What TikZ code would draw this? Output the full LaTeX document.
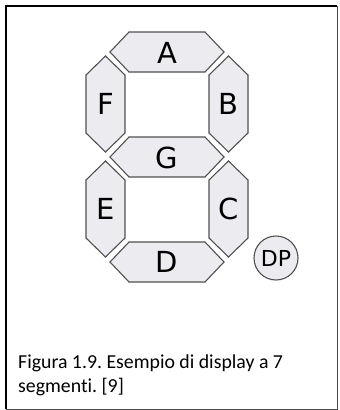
\documentclass[tikz,border=0pt]{standalone}
\usepackage{fontspec}
\setmainfont{Carlito}[Ligatures=NoCommon]
\newfontfamily\segfont{DejaVu Sans}
\definecolor{segfill}{RGB}{236,235,240}
\definecolor{segline}{RGB}{80,80,80}
\frenchspacing
\begin{document}
\begin{tikzpicture}[x=1pt, y=-1pt,
        segment/.style={draw=segline, fill=segfill, line width=1.1pt, line join=miter},
        seglabel/.style={font=\segfont\fontsize{29}{29}\selectfont, inner sep=0pt},
        dpoint/.style={circle, draw=segline, fill=segfill, line width=1.1pt, minimum size=44pt, inner sep=0pt, font=\segfont\fontsize{22}{22}\selectfont},
        caption/.style={font=\fontsize{19.8}{24}\selectfont, anchor=base west, inner sep=0pt}
    ]
        \useasboundingbox (0,0) rectangle (340,410);
        \draw[line width=2pt] (6,409) -- (6,6) -- (337,6);
        \draw[line width=1pt, black!70] (337,6) -- (337,409) -- (6,409);

        % horizontal segments
        \draw[segment, shift={(167,52)}] (-57,0) -- (-38,-20) -- (38,-20) -- (57,0) -- (38,20) -- (-38,20) -- cycle;
        \draw[segment, shift={(167,157)}] (-57,0) -- (-38,-20) -- (38,-20) -- (57,0) -- (38,20) -- (-38,20) -- cycle;
        \draw[segment, shift={(167,262)}] (-57,0) -- (-38,-20) -- (38,-20) -- (57,0) -- (38,20) -- (-38,20) -- cycle;
        % vertical segments
        \draw[segment, shift={(105.5,104)}] (0,-48) -- (19.5,-29) -- (19.5,29) -- (0,48) -- (-19.5,29) -- (-19.5,-29) -- cycle;
        \draw[segment, shift={(228.5,104)}] (0,-48) -- (19.5,-29) -- (19.5,29) -- (0,48) -- (-19.5,29) -- (-19.5,-29) -- cycle;
        \draw[segment, shift={(105.5,209)}] (0,-48) -- (19.5,-29) -- (19.5,29) -- (0,48) -- (-19.5,29) -- (-19.5,-29) -- cycle;
        \draw[segment, shift={(228.5,209)}] (0,-48) -- (19.5,-29) -- (19.5,29) -- (0,48) -- (-19.5,29) -- (-19.5,-29) -- cycle;

        \node[seglabel] (A) at (167,53) {A};
        \node[seglabel] (B) at (228.5,104) {B};
        \node[seglabel] (C) at (228.5,209) {C};
        \node[seglabel] (D) at (167,262) {D};
        \node[seglabel] (E) at (105.5,209) {E};
        \node[seglabel] (F) at (105.5,104) {F};
        \node[seglabel] (G) at (167,158) {G};
        \node[dpoint] (DP) at (276,258) {DP};

        \node[caption] (cap1) at (18,368) {Figura 1.9. Esempio di display a 7};
        \node[caption] (cap2) at (18,392) {segmenti. [9]};
    \end{tikzpicture}
\end{document}
